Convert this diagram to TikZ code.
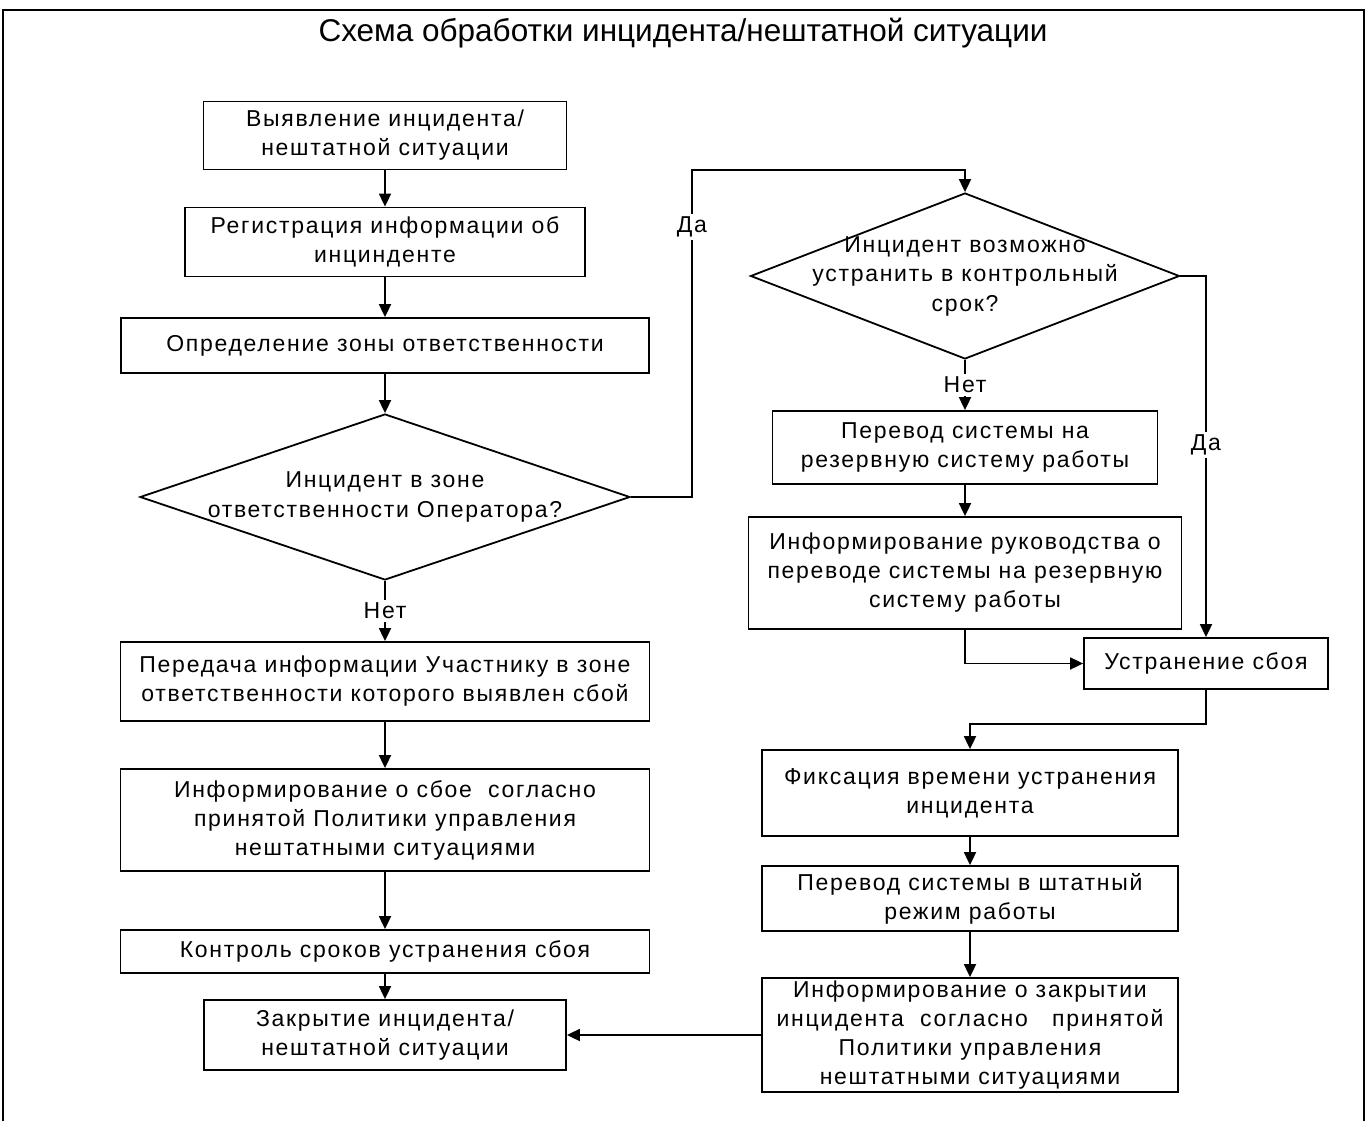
\documentclass[tikz,border=0pt]{standalone}
\usepackage{fontspec}
\setmainfont{Liberation Sans}
\newfontfamily\boxfont[LetterSpace=7.5]{Liberation Sans}
\usetikzlibrary{shapes.geometric,arrows.meta}

\begin{document}
\begin{tikzpicture}[
            x=1pt, y=-1pt, line width=1.8pt,
            bNode/.style={draw=black, rectangle, align=center, inner sep=0pt, font=\boxfont\fontsize{23}{29}\selectfont},
            dNode/.style={draw=black, diamond, inner sep=0pt},
            dText/.style={align=center, font=\boxfont\fontsize{23}{29.5}\selectfont},
            lbl/.style={fill=white, inner sep=3pt, font=\boxfont\fontsize{23}{26}\selectfont},
            arr/.style={-{Triangle[length=13pt,width=12pt]}}
        ]

        \useasboundingbox (0,0) rectangle (1369,1121);
        \draw (3,1121) -- (3,10) -- (1364,10) -- (1364,1121);
        \node [font=\fontsize{31.5}{36}\selectfont] (title) at (683,33) {Схема обработки инцидента/нештатной ситуации};

        \node [bNode, minimum width=363pt, minimum height=68pt] (detect) at (385,135.5) {Выявление инцидента/\\нештатной ситуации};
        \node [bNode, minimum width=400pt, minimum height=69pt] (register) at (385,242) {Регистрация информации об\\инцинденте};
        \node [bNode, minimum width=528pt, minimum height=55pt] (zone) at (385,345.5) {Определение зоны ответственности};
        \node [dNode, minimum width=490pt, minimum height=166pt,
               label={[dText]center:Инцидент в зоне\\ответственности Оператора?}] (opZone) at (385,497) {};
        \node [bNode, minimum width=529pt, minimum height=79pt] (handover) at (385,681.5) {Передача информации Участнику в зоне\\ответственности которого выявлен сбой};
        \node [bNode, minimum width=529pt, minimum height=102pt] (notify) at (385,820) {Информирование о сбое\ \ согласно\\принятой Политики управления\\нештатными ситуациями};
        \node [bNode, minimum width=529pt, minimum height=43pt] (monitor) at (385,951.5) {Контроль сроков устранения сбоя};
        \node [bNode, minimum width=362pt, minimum height=70pt] (close) at (385,1035) {Закрытие инцидента/\\нештатной ситуации};

        \node [dNode, minimum width=429pt, minimum height=166pt,
               label={[dText]center:Инцидент возможно\\устранить в контрольный\\срок?}] (canFix) at (965,276) {};
        \node [bNode, minimum width=385pt, minimum height=73pt] (backup) at (965,447.5) {Перевод системы на\\резервную систему работы};
        \node [bNode, minimum width=433pt, minimum height=112pt] (inform) at (965,573) {Информирование руководства о\\переводе системы на резервную\\систему работы};
        \node [bNode, minimum width=244pt, minimum height=51pt] (fix) at (1206,663.5) {Устранение сбоя};
        \node [bNode, minimum width=416pt, minimum height=86pt] (fixTime) at (970,793) {Фиксация времени устранения\\инцидента};
        \node [bNode, minimum width=416pt, minimum height=65pt] (normal) at (970,898.5) {Перевод системы в штатный\\режим работы};
        \node [bNode, minimum width=416pt, minimum height=114pt] (report) at (970,1035) {Информирование о закрытии\\инцидента\ \ согласно\ \ \ принятой\\Политики управления\\нештатными ситуациями};

        \coordinate (yesTop) at (692,170);

        \draw [arr] (detect) -- (register);
        \draw [arr] (register) -- (zone);
        \draw [arr] (zone) -- (opZone);
        \draw [arr] (opZone) -- node [lbl] (noZone) {Нет} (handover);
        \draw [arr] (handover) -- (notify);
        \draw [arr] (notify) -- (monitor);
        \draw [arr] (monitor) -- (close);
        \draw [arr] (opZone.east) -| (yesTop) -| (canFix.north);
        \node [lbl] (yesZone) at (692,227) {Да};
        \draw [arr] (canFix) -- node [lbl] (noFix) {Нет} (backup);
        \draw [arr] (backup) -- (inform);
        \draw [arr] (inform.south) |- (fix.west);
        \draw [arr] (canFix.east) -| (fix.north);
        \node [lbl] (yesFix) at (1206,445) {Да};
        \draw [arr] (fix.south) -- ++(0,34) -| (fixTime.north);
        \draw [arr] (fixTime) -- (normal);
        \draw [arr] (normal) -- (report);
        \draw [arr] (report) -- (close);

    \end{tikzpicture}
\end{document}
